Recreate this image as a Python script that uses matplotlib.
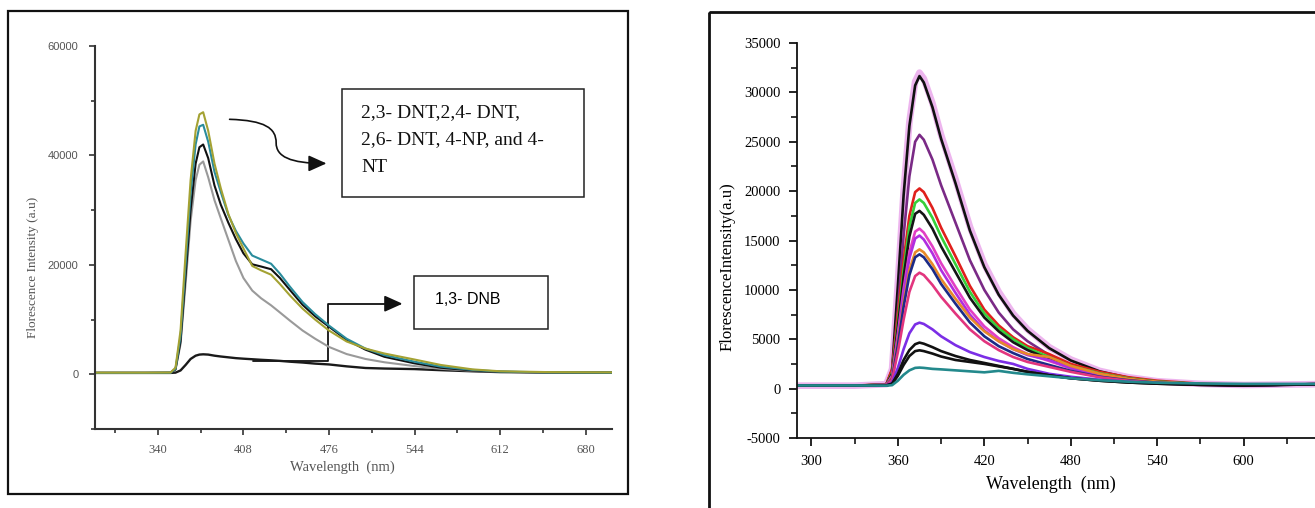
import numpy as np
import matplotlib.pyplot as plt
from matplotlib.patches import Rectangle, FancyArrowPatch
from matplotlib.path import Path

plt.rcParams['axes.unicode_minus'] = False

# left panel: nitro-aromatic quenching spectra
wl_left = [290, 330, 350, 354, 358, 362, 366, 370, 373, 376, 380, 385, 390, 396, 402, 408,
           415, 422, 430, 437, 445, 455, 465, 476, 490, 505, 520, 544, 565, 590, 612, 650, 701]
olive = [300, 300, 320, 1200, 8000, 22000, 35500, 44500, 47500, 47900, 44500, 38500, 34000, 29300, 25800, 23000,
         19800, 19000, 18200, 16500, 14400, 12000, 10000, 8000, 6000, 4700, 3800, 2700, 1700, 900, 550, 400, 350]
teal = [250, 250, 280, 1000, 7000, 20000, 33000, 42000, 45300, 45600, 42500, 37000, 33300, 29100, 26200, 23900,
        21700, 21000, 20200, 18400, 16000, 13200, 11000, 8900, 6500, 4700, 3500, 2300, 1400, 800, 500, 350, 300]
black = [250, 250, 280, 900, 6000, 18000, 30000, 38500, 41500, 42000, 39500, 34500, 31000, 27700, 24700, 22100,
         20100, 19700, 19200, 17600, 15400, 12700, 10600, 8700, 6300, 4500, 3200, 2000, 1200, 700, 450, 350, 300]
grey = [250, 250, 280, 900, 5500, 16500, 28000, 35500, 38300, 38900, 36000, 31800, 28500, 24600, 20700, 17600,
        15300, 13900, 12600, 11300, 9800, 8000, 6500, 5000, 3700, 2800, 2200, 1500, 1000, 650, 450, 350, 300]
dnb = [250, 250, 250, 300, 700, 1700, 2800, 3400, 3600, 3650, 3600, 3400, 3250, 3100, 2950, 2850,
       2750, 2650, 2550, 2450, 2300, 2150, 1950, 1800, 1450, 1150, 1050, 950, 750, 550, 400, 330, 300]

# right panel: titration spectra
wl_right = [290, 330, 352, 356, 360, 364, 368, 372, 375, 378, 384, 390, 400, 410, 420, 430,
            440, 450, 465, 480, 500, 520, 540, 570, 600, 650]
right_series = [
    ('#e9a3ea', [300, 300, 450, 2000, 10700, 20000, 27000, 31100, 32000, 31400, 28900, 25700, 21200, 16400, 12600, 9800,
                 7600, 6000, 4200, 2950, 1800, 1150, 750, 480, 370, 450]),
    ('#111111', [300, 300, 400, 1900, 10400, 19600, 26600, 30700, 31650, 31000, 28500, 25300, 20800, 16000, 12300, 9500,
                 7400, 5850, 4100, 2850, 1750, 1100, 700, 450, 350, 450]),
    ('#7a2a86', [300, 300, 380, 1500, 8000, 15500, 21500, 25000, 25700, 25200, 23200, 20600, 16800, 13000, 10000, 7700,
                 6000, 4800, 3400, 2400, 1500, 950, 650, 430, 350, 450]),
    ('#e0201c', [300, 300, 450, 2000, 7500, 13000, 17500, 19900, 20270, 19900, 18300, 16300, 13400, 10400, 8000, 6400,
                 5200, 4300, 3500, 2500, 1700, 1150, 800, 500, 380, 450]),
    ('#35d03a', [300, 300, 400, 1600, 6600, 12000, 16400, 18800, 19160, 18800, 17300, 15400, 12600, 9800, 7600, 6100,
                 5000, 4100, 3200, 2300, 1550, 1050, 720, 460, 360, 450]),
    ('#151515', [300, 300, 400, 1500, 6200, 11300, 15400, 17700, 18000, 17600, 16200, 14400, 11800, 9200, 7200, 5800,
                 4700, 3900, 3000, 2200, 1450, 1000, 700, 450, 350, 450]),
    ('#e23fc4', [300, 300, 380, 1300, 5500, 10100, 13800, 15900, 16200, 15800, 14400, 12700, 10300, 8000, 6300, 5100,
                 4200, 3500, 2800, 2050, 1350, 900, 650, 430, 350, 450]),
    ('#b02ee0', [300, 300, 380, 1200, 5200, 9600, 13200, 15200, 15500, 15100, 13700, 12000, 9700, 7500, 5900, 4800,
                 4000, 3400, 2900, 2100, 1350, 900, 650, 430, 350, 450]),
    ('#e8892a', [300, 300, 380, 1100, 4700, 8700, 12000, 13800, 14100, 13800, 12600, 11100, 9100, 7200, 5800, 4800,
                 4000, 3500, 3200, 2300, 1500, 1000, 700, 450, 360, 450]),
    ('#1c2a86', [300, 300, 370, 1000, 4400, 8300, 11500, 13300, 13600, 13300, 12100, 10600, 8600, 6700, 5300, 4300,
                 3600, 3000, 2400, 1800, 1200, 850, 600, 420, 340, 450]),
    ('#e2357e', [300, 300, 360, 900, 3700, 7000, 9800, 11400, 11740, 11500, 10500, 9300, 7600, 6000, 4800, 3900,
                 3200, 2700, 2200, 1700, 1150, 800, 580, 400, 340, 450]),
    ('#7b2ee6', [300, 300, 330, 600, 2100, 4000, 5600, 6500, 6680, 6550, 6000, 5300, 4400, 3700, 3200, 2800,
                 2500, 2000, 1500, 1200, 900, 700, 550, 400, 330, 450]),
    ('#111111', [300, 300, 320, 500, 1500, 2900, 3900, 4500, 4660, 4550, 4200, 3800, 3300, 2900, 2600, 2300,
                 2000, 1700, 1350, 1050, 800, 620, 500, 380, 320, 430]),
    ('#111111', [300, 300, 320, 480, 1300, 2400, 3300, 3800, 3880, 3800, 3550, 3250, 2900, 2700, 2500, 2250,
                 2000, 1700, 1350, 1050, 800, 620, 500, 380, 320, 430]),
    ('#23898c', [320, 320, 300, 350, 800, 1400, 1850, 2100, 2130, 2100, 2000, 1950, 1850, 1750, 1650, 1800,
                 1600, 1450, 1250, 1050, 850, 700, 600, 520, 480, 480]),
]

W, H = 1315, 508
fig = plt.figure(figsize=(W / 100, H / 100), dpi=100)

def px_box(x0, y0, x1, y1):
    return [x0 / W, 1 - y1 / H, (x1 - x0) / W, (y1 - y0) / H]

# pixel overlay for the frames and label boxes
overlay = fig.add_axes([0, 0, 1, 1], zorder=10)
overlay.set_xlim(0, W)
overlay.set_ylim(H, 0)
overlay.axis('off')
overlay.add_patch(Rectangle((8, 11), 620, 483, fill=False, lw=1.6, ec='#111111'))
overlay.add_patch(Rectangle((709, 12), 700, 600, fill=False, lw=2.0, ec='#111111'))

# ---- left panel
ax1 = fig.add_axes(px_box(95, 46, 612, 429))
ax1.plot(wl_left, dnb, color='#1a1a1a', lw=1.7)
ax1.plot(wl_left, grey, color='#9a9a9a', lw=1.5)
ax1.plot(wl_left, black, color='#111111', lw=1.5)
ax1.plot(wl_left, teal, color='#2a8c9c', lw=1.5)
ax1.plot(wl_left, olive, color='#a4a233', lw=1.5)
ax1.set_xlim(290, 701)
ax1.set_ylim(-10000, 60000)
ax1.set_xticks([340, 408, 476, 544, 612, 680])
ax1.set_xticks([306, 374, 442, 510, 578, 646], minor=True)
ax1.set_yticks([0, 20000, 40000, 60000])
ax1.set_yticks([-10000, 10000, 30000, 50000], minor=True)
for s in ['top', 'right']:
    ax1.spines[s].set_visible(False)
for s in ['left', 'bottom']:
    ax1.spines[s].set_linewidth(1.5)
    ax1.spines[s].set_color('#333333')
ax1.tick_params(which='major', direction='out', length=4, width=1.2, color='#333333')
ax1.tick_params(which='minor', direction='out', length=3, width=1.2, color='#333333')
ax1.tick_params(axis='x', labelsize=9, labelcolor='#555555', pad=7)
ax1.tick_params(axis='y', labelsize=8, labelcolor='#555555', pad=8)
for lab in ax1.get_xticklabels():
    lab.set_family('Liberation Serif')
for lab in ax1.get_yticklabels():
    lab.set_family('Liberation Sans')
ax1.set_xlabel('Wavelength  (nm)', family='Liberation Serif', fontsize=10.5, color='#555555')
ax1.set_ylabel('Florescence Intensity (a.u)', family='Liberation Serif', fontsize=9.5, color='#555555')
ax1.xaxis.set_label_coords(0.478, -0.081)
ax1.yaxis.set_label_coords(-0.108, 0.423)

# annotation boxes
overlay.add_patch(Rectangle((342, 89), 242, 108, fill=False, lw=1.1, ec='#222222'))
for i, line in enumerate(['2,3- DNT,2,4- DNT,', '2,6- DNT, 4-NP, and 4-', 'NT']):
    overlay.text(361, 113 + 27 * i, line, family='Liberation Serif', fontsize=14,
                 va='center', ha='left', color='#111111')
overlay.add_patch(Rectangle((414, 276), 134, 53, fill=False, lw=1.1, ec='#222222'))
overlay.text(435, 300, '1,3- DNB', family='Liberation Sans', fontsize=11.5, va='center', ha='left')

curve = Path([(397, 46600), (425, 46400), (434, 45000), (434, 42300),
              (434, 39800), (445, 38540), (474, 38540)],
             [Path.MOVETO, Path.CURVE4, Path.CURVE4, Path.CURVE4,
              Path.CURVE4, Path.CURVE4, Path.CURVE4])
ax1.add_patch(FancyArrowPatch(path=curve, arrowstyle='-|>,head_length=1.0,head_width=0.45',
                              mutation_scale=11, lw=1.2, color='#111111', clip_on=False))
elbow = Path([(415.5, 2450), (475, 2450), (475, 12900), (534.5, 12900)],
             [Path.MOVETO, Path.LINETO, Path.LINETO, Path.LINETO])
ax1.add_patch(FancyArrowPatch(path=elbow, arrowstyle='-|>,head_length=1.0,head_width=0.45',
                              mutation_scale=11, lw=1.3, color='#111111', clip_on=False))

# ---- right panel
ax2 = fig.add_axes(px_box(797, 43, 1315, 438))
for i, (col, vals) in enumerate(right_series):
    ax2.plot(wl_right, vals, color=col, lw=4.8 if i == 0 else 1.9, alpha=0.8 if i == 0 else 1)
ax2.set_xlim(290, 649.5)
ax2.set_ylim(-5000, 35000)
ax2.set_xticks([300, 360, 420, 480, 540, 600])
ax2.set_xticks(np.arange(330, 649, 60), minor=True)
ax2.set_yticks(np.arange(-5000, 35001, 5000))
ax2.set_yticks(np.arange(-2500, 35000, 5000), minor=True)
for s in ['top', 'right']:
    ax2.spines[s].set_visible(False)
for s in ['left', 'bottom']:
    ax2.spines[s].set_linewidth(1.3)
    ax2.spines[s].set_color('#111111')
ax2.tick_params(which='major', direction='out', length=6, width=1.2)
ax2.tick_params(which='minor', direction='out', length=4, width=1.1)
ax2.tick_params(labelsize=10.5, pad=6)
for lab in ax2.get_xticklabels() + ax2.get_yticklabels():
    lab.set_family('Liberation Serif')
ax2.set_xlabel('Wavelength  (nm)', family='Liberation Serif', fontsize=13)
ax2.set_ylabel('FlorescenceIntensity(a.u)', family='Liberation Serif', fontsize=12)
ax2.xaxis.set_label_coords(0.49, -0.096)
ax2.yaxis.set_label_coords(-0.118, 0.433)

fig.savefig('out.png', dpi=100)
